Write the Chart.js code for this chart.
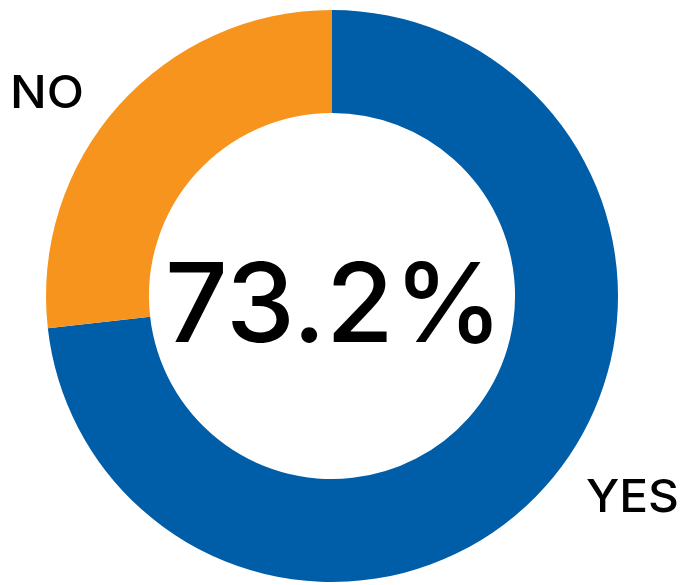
<!DOCTYPE html>
<html>
<head>
<meta charset="utf-8">
<script src="https://cdn.jsdelivr.net/npm/chart.js@4.4.0/dist/chart.umd.min.js"></script>
<style>
  html, body { margin: 0; padding: 0; background: #fff; }
  #wrap { width: 680px; height: 585px; position: relative; }
</style>
</head>
<body>
<div id="wrap"><canvas id="donut"></canvas></div>
<script>
const labels = ['YES', 'NO'];
const values = [73.2, 26.8];
const colors = ['#005DA8', '#F7941D'];
const centerText = '73.2%';

// draw text squeezed/stretched to a given width
function fitText(ctx, text, x, y, width, align) {
    const w = ctx.measureText(text).width;
    const s = width / w;
    ctx.save();
    ctx.translate(x, y);
    ctx.scale(s, 1);
    ctx.textAlign = align;
    ctx.fillText(text, 0, 0);
    ctx.restore();
}

// center text + side labels
const textPlugin = {
    id: 'textPlugin',
    afterDraw(chart) {
        const ctx = chart.ctx;
        const arc = chart.getDatasetMeta(0).data[0];
        ctx.save();
        ctx.fillStyle = '#000';
        ctx.textBaseline = 'alphabetic';
        ctx.font = '500 110px Inter, Lato, sans-serif';
        fitText(ctx, centerText, arc.x + 2, arc.y + 46, 338, 'center');

        ctx.font = '500 45px Inter, Lato, sans-serif';
        fitText(ctx, labels[1], 10, 108, 74, 'left');
        fitText(ctx, labels[0], 679, 512, 93, 'right');
        ctx.restore();
    }
};

new Chart(document.getElementById('donut'), {
    type: 'doughnut',
    data: {
        labels: labels,
        datasets: [{
            data: values,
            backgroundColor: colors,
            borderWidth: 0
        }]
    },
    options: {
        responsive: true,
        maintainAspectRatio: false,
        animation: false,
        cutout: '64%',
        layout: { padding: { top: 10, bottom: 3, left: 46, right: 62 } },
        plugins: {
            legend: { display: false },
            tooltip: { enabled: false }
        }
    },
    plugins: [textPlugin]
});
</script>
</body>
</html>
